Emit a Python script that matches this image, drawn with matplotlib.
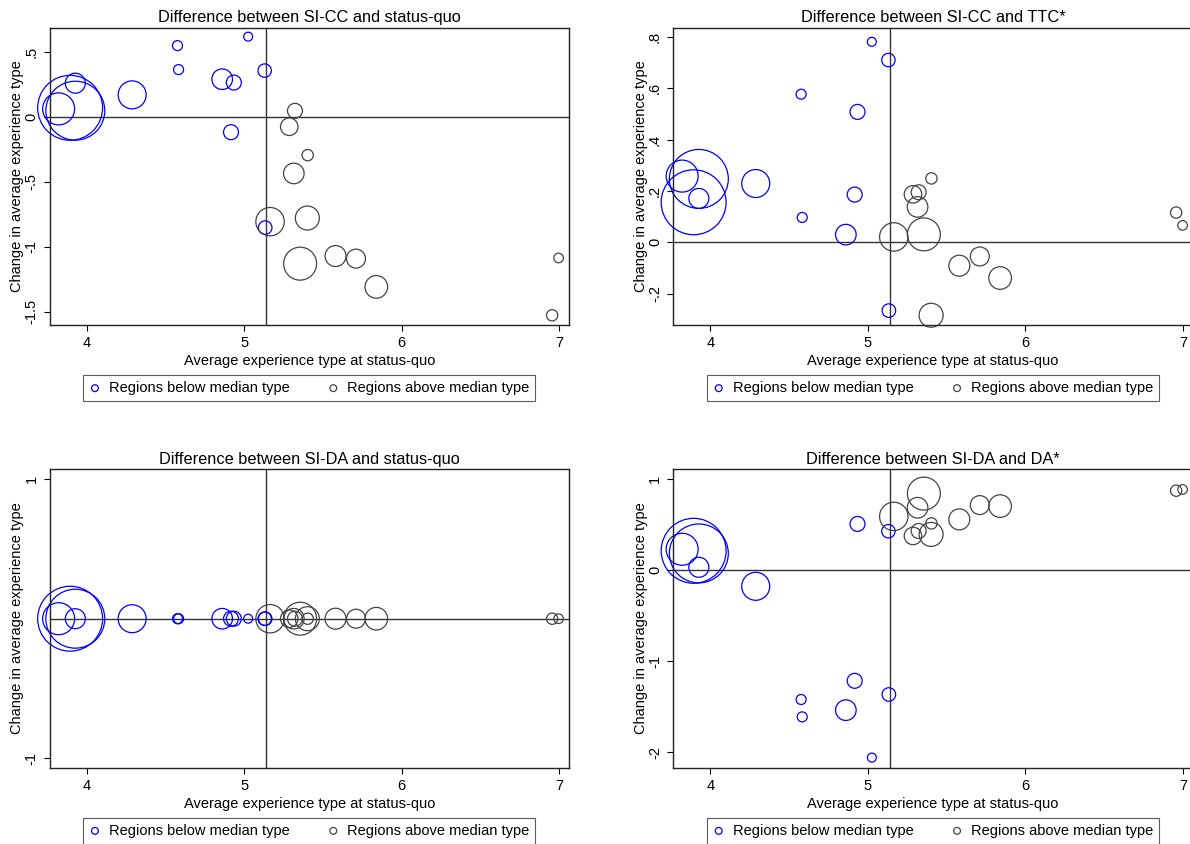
import numpy as np
import matplotlib
matplotlib.use("Agg")
from matplotlib import pyplot as plt

plt.rcParams['font.family'] = ['Liberation Sans', 'DejaVu Sans']

# --- DATOS ---
# regiones por debajo de la mediana (azul)
x_below = [3.822, 3.895, 3.928, 3.928, 4.289, 4.577, 4.584, 4.861, 4.917,
           4.935, 5.026, 5.131, 5.134]
peso_below = [256, 1056, 870, 100, 196, 25, 25, 106, 56, 56, 20, 45, 46]
cc_sq_below = [0.064, 0.072, 0.050, 0.262, 0.172, 0.552, 0.367, 0.293, -0.116,
               0.267, 0.621, 0.359, -0.852]
cc_ttc_below = [0.258, 0.156, 0.247, 0.171, 0.229, 0.577, 0.097, 0.030, 0.186,
                0.508, 0.781, 0.710, -0.266]
da_sq_below = [0, 0, 0, 0, 0, 0, 0, 0, 0, 0, 0, 0, 0]
da_da_below = [0.229, 0.212, 0.183, 0.031, -0.178, -1.421, -1.612, -1.538,
               -1.216, 0.507, -2.059, 0.427, -1.366]

# regiones por encima de la mediana (gris)
x_above = [5.165, 5.287, 5.316, 5.323, 5.356, 5.402, 5.404, 5.581, 5.711,
           5.840, 6.957, 6.998]
peso_above = [202, 77, 106, 56, 272, 144, 32, 110, 90, 128, 32, 23]
cc_sq_above = [-0.806, -0.074, -0.434, 0.049, -1.130, -0.778, -0.293, -1.071,
               -1.091, -1.309, -1.528, -1.086]
cc_ttc_above = [0.021, 0.187, 0.138, 0.195, 0.031, -0.284, 0.249, -0.091,
                -0.055, -0.139, 0.116, 0.066]
da_sq_above = [0, 0, 0, 0, 0, 0, 0, 0, 0, 0, 0, 0]
da_da_above = [0.590, 0.375, 0.685, 0.430, 0.840, 0.392, 0.513, 0.557, 0.714,
               0.703, 0.872, 0.886]

mediana_tipo = 5.14

paneles = [
    ("Difference between SI-CC and status-quo", cc_sq_below, cc_sq_above,
     [-1.5, -1, -0.5, 0, 0.5], ["-1.5", "-1", "-.5", "0", ".5"], (-1.603, 0.69)),
    ("Difference between SI-CC and TTC*", cc_ttc_below, cc_ttc_above,
     [-0.2, 0, 0.2, 0.4, 0.6, 0.8], ["-.2", "0", ".2", ".4", ".6", ".8"], (-0.322, 0.836)),
    ("Difference between SI-DA and status-quo", da_sq_below, da_sq_above,
     [-1, 1], ["-1", "1"], (-1.068, 1.071)),
    ("Difference between SI-DA and DA*", da_da_below, da_da_above,
     [-2, -1, 0, 1], ["-2", "-1", "0", "1"], (-2.17, 1.107)),
]

# --- ESTILO ---
W, H = 1190, 844
azul = '#0000ff'
gris = '#444444'
escala_size = 2.07  # peso -> area del marcador (pt^2)

# posiciones de los ejes en pixeles (izq, arriba, der, abajo)
cajas = [(49.5, 27.7, 569, 325), (673, 27.7, 1193, 325),
         (49.5, 469.3, 569, 767.7), (673, 469.3, 1193, 767.7)]

fig = plt.figure(figsize=(W / 100, H / 100), dpi=100)

for (titulo, y_b, y_a, yt, ytl, ylim), (l, t, r, b) in zip(paneles, cajas):
    ax = fig.add_axes([l / W, 1 - b / H, (r - l) / W, (b - t) / H])
    ax.axvline(mediana_tipo, color='#333333', lw=1, zorder=1)
    ax.axhline(0, color='#333333', lw=1, zorder=1)
    ax.scatter(x_below, y_b, s=np.array(peso_below) * escala_size,
               facecolors='none', edgecolors=azul, linewidths=0.9,
               clip_on=False, zorder=2, label='Regions below median type')
    ax.scatter(x_above, y_a, s=np.array(peso_above) * escala_size,
               facecolors='none', edgecolors=gris, linewidths=0.9,
               clip_on=False, zorder=2, label='Regions above median type')
    ax.set_xlim(3.764, 7.064)
    ax.set_ylim(*ylim)
    ax.set_xticks([4, 5, 6, 7])
    ax.set_yticks(yt)
    ax.set_yticklabels(ytl, rotation=90, va='center')
    ax.tick_params(direction='out', length=4, width=0.8, labelsize=10.5, pad=4)
    for sp in ax.spines.values():
        sp.set_color('#222222')
        sp.set_linewidth(1)
    ax.set_title(titulo, fontsize=11.8, pad=4)
    ax.set_xlabel('Average experience type at status-quo', fontsize=10.5, labelpad=3)
    ax.set_ylabel('Change in average experience type', fontsize=10.5)
    ax.yaxis.set_label_coords(-25 / (r - l), 0.5)

    # leyenda centrada 63 px por debajo del eje
    leg = ax.legend(loc='center', bbox_to_anchor=(0.5, -63 / (b - t)),
                    ncol=2, fontsize=10.5, frameon=True, fancybox=False,
                    edgecolor='#333333', handlelength=0.8, handletextpad=0.55,
                    columnspacing=2.6, borderpad=0.4, borderaxespad=0)
    leg.get_frame().set_linewidth(0.8)
    for h in leg.legend_handles:
        h.set_sizes([24])

fig.savefig('out.png', dpi=100)
